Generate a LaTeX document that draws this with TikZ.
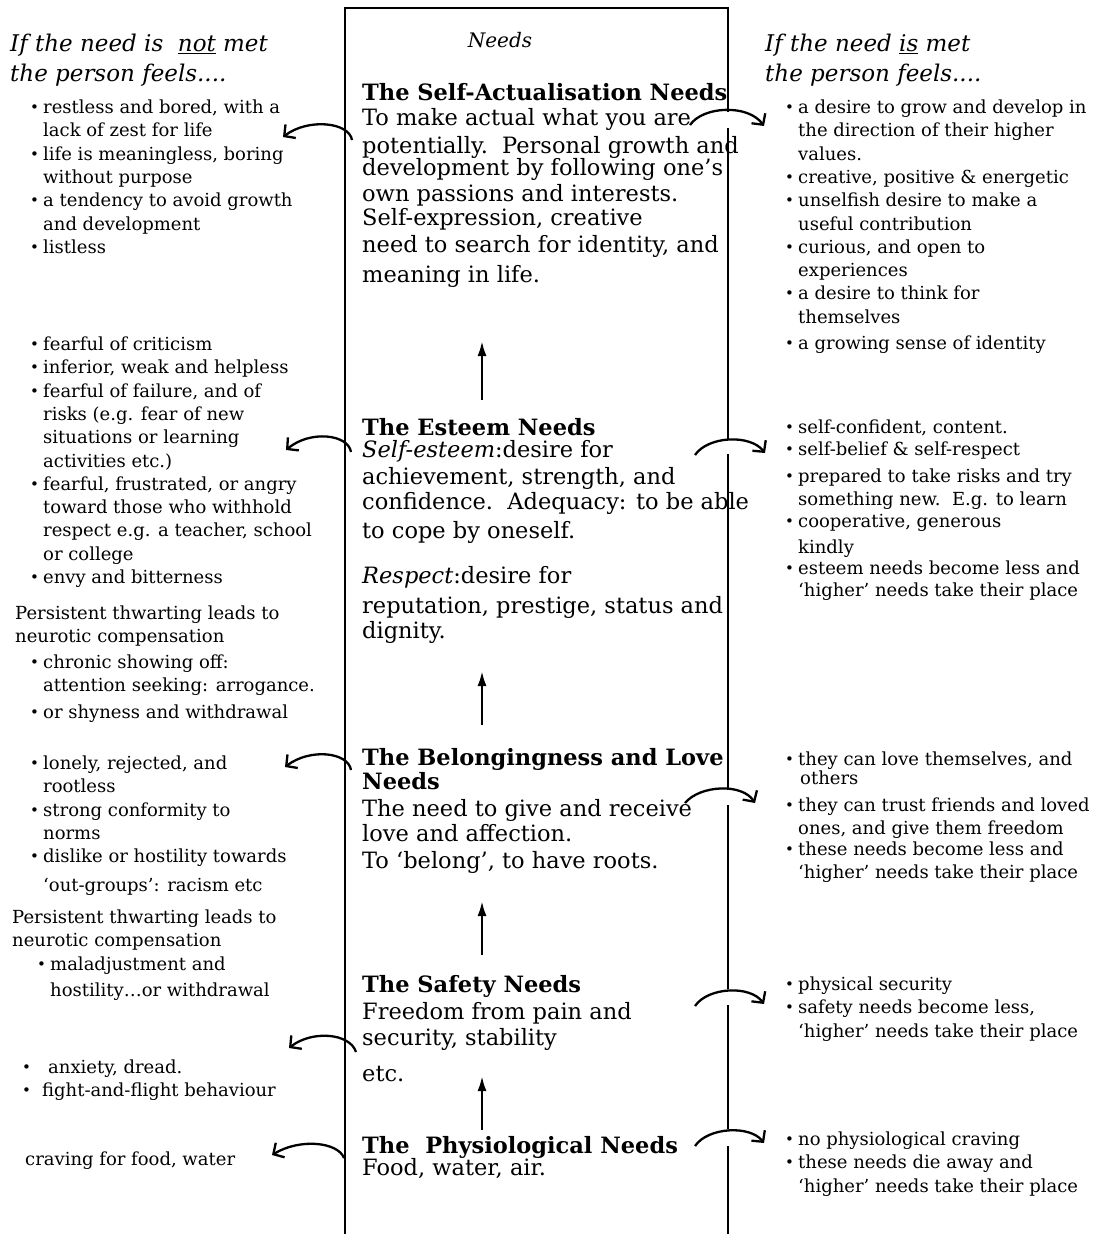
\documentclass[tikz,border=0pt]{standalone}
\usepackage{fontspec}
\setmainfont{DejaVu Serif}
\usepackage{tikz}
\usetikzlibrary{arrows.meta}
\tikzset{side text/.style={anchor=north west,inner sep=0,align=left,font=\fontsize{18}{23.3}\selectfont}}
\tikzset{need text/.style={anchor=north west,inner sep=0,align=left,font=\fontsize{22.5}{25}\selectfont}}
\tikzset{head text/.style={anchor=north west,inner sep=0,align=left,font=\fontsize{23}{30}\selectfont\itshape}}
\tikzset{frame line/.style={line width=2.6pt}}
\tikzset{hook arrow/.style={line width=2.3pt,-{Straight Barb[length=8pt,width=17pt]}}}
\tikzset{up arrow/.style={line width=2.4pt,-{Latex[length=15pt,width=9pt]}}}
\newcommand{\bul}[1][13pt]{\strut\makebox[#1][l]{\raisebox{1pt}{\fontsize{15}{15}\selectfont\textbullet}}}
\def\ind{\hspace*{13pt}}

\begin{document}
\begin{tikzpicture}[x=1pt,y=-1pt]
  \useasboundingbox (0,0) rectangle (1099,1234);

  %枠線
  \draw[frame line] (345,1234) -- (345,8) -- (728,8) -- (728,112);
  \draw[frame line] (345,141) -- (345,436);
  \draw[frame line] (345,453) -- (345,756);
  \draw[frame line] (345,771) -- (345,1036);
  \draw[frame line] (345,1053) -- (345,1234);
  \draw[frame line] (728,128) -- (728,439);
  \draw[frame line] (728,454) -- (728,789);
  \draw[frame line] (728,805) -- (728,989);
  \draw[frame line] (728,1005) -- (728,1129);
  \draw[frame line] (728,1146) -- (728,1234);

  %見出し
  \node[head text] (head-no) at (10,30) {\strut If the need is\ \ \underline{not} met\\ the person feels....};
  \node[head text] (head-yes) at (765,30) {\strut If the need \underline{is} met\\ the person feels....};
  \node[font=\fontsize{20}{22}\selectfont\itshape, inner sep=0] (needs) at (500,40) {Needs};

  %欲求
  \node[need text] (sa) at (362,82.5) {\strut{\bfseries The Self-Actualisation Needs}\\
    To make actual what you are\\[3pt]
    potentially.\ \ Personal growth and\\[-3pt]
    development by following one’s\\[1pt]
    own passions and interests.\\[-1pt]
    Self-expression, creative\\[2pt]
    need to search for identity, and\\[5pt]
    meaning in life.};
  \node[need text] (esteem) at (362,417.5) {\strut{\bfseries The Esteem Needs}\\[-3pt]
    \textit{Self-esteem}:desire for\\[2pt]
    achievement, strength, and\\
    confidence.\ \ Adequacy: to be able\\[4pt]
    to cope by oneself.\\[20pt]
    \textit{Respect}:desire for\\[5pt]
    reputation, prestige, status and\\
    dignity.};
  \node[need text] (belong) at (362,747.5) {\strut{\bfseries The Belongingness and Love}\\[-1pt]
    {\bfseries Needs}\\[2pt]
    The need to give and receive\\
    love and affection.\\[2pt]
    To ‘belong’, to have roots.};
  \node[need text] (safety) at (362,974.5) {\strut{\bfseries The Safety Needs}\\[2pt]
    Freedom from pain and\\[1pt]
    security, stability\\[11pt]
    etc.};
  \node[need text] (physio) at (362,1135.5) {\strut{\bfseries The\ \ Physiological Needs}\\[-3pt]
    Food, water, air.};

  %満たされない
  \node[side text] (sa-no) at (30,97) {\bul restless and bored, with a\\
    \ind lack of zest for life\\
    \bul life is meaningless, boring\\
    \ind without purpose\\
    \bul a tendency to avoid growth\\
    \ind and development\\
    \bul listless};
  \node[side text] (esteem-no) at (30,334) {\bul fearful of criticism\\
    \bul inferior, weak and helpless\\
    \bul fearful of failure, and of\\
    \ind risks (e.g. fear of new\\
    \ind situations or learning\\
    \ind activities etc.)\\
    \bul fearful, frustrated, or angry\\
    \ind toward those who withhold\\
    \ind respect e.g. a teacher, school\\
    \ind or college\\
    \bul envy and bitterness};
  \node[side text] (thwart-a) at (15,603) {\strut Persistent thwarting leads to\\
    neurotic compensation\\[2pt]
    \hspace*{15pt}\bul chronic showing off:\\
    \hspace*{28pt}attention seeking: arrogance.\\[4pt]
    \hspace*{15pt}\bul or shyness and withdrawal};
  \node[side text] (belong-no) at (30,753) {\bul lonely, rejected, and\\
    \ind rootless\\
    \bul strong conformity to\\
    \ind norms\\
    \bul dislike or hostility towards\\[5pt]
    \ind ‘out-groups’: racism etc};
  \node[side text] (thwart-b) at (12,907) {\strut Persistent thwarting leads to\\
    neurotic compensation\\
    \hspace*{25pt}\bul maladjustment and\\[3pt]
    \hspace*{38pt}hostility…or withdrawal};
  \node[side text] (safety-no) at (22,1057) {\bul[20pt]\hspace*{6pt}anxiety, dread.\\
    \bul[20pt]fight-and-flight behaviour};
  \node[side text] (physio-no) at (25,1149) {\strut craving for food, water};

  %満たされる
  \node[side text] (sa-yes) at (785,97) {\bul a desire to grow and develop in\\
    \ind the direction of their higher\\
    \ind values.\\
    \bul creative, positive \& energetic\\
    \bul unselfish desire to make a\\
    \ind useful contribution\\
    \bul curious, and open to\\
    \ind experiences\\
    \bul a desire to think for\\
    \ind themselves\\[3pt]
    \bul a growing sense of identity};
  \node[side text] (esteem-yes) at (785,417) {\bul self-confident, content.\\[-1pt]
    \bul self-belief \& self-respect\\[3pt]
    \bul prepared to take risks and try\\
    \ind something new.\ \ E.g. to learn\\[-1pt]
    \bul cooperative, generous\\[2pt]
    \ind kindly\\[-2pt]
    \bul esteem needs become less and\\[-1pt]
    \ind ‘higher’ needs take their place};
  \node[side text] (belong-yes) at (785,749) {\bul they can love themselves, and\\[-4pt]
    \ind\hspace*{2pt}others\\[3pt]
    \bul they can trust friends and loved\\
    \ind ones, and give them freedom\\[-2pt]
    \bul these needs become less and\\[-1pt]
    \ind ‘higher’ needs take their place};
  \node[side text] (safety-yes) at (785,974) {\bul physical security\\
    \bul safety needs become less,\\
    \ind ‘higher’ needs take their place};
  \node[side text] (physio-yes) at (785,1129) {\bul no physiological craving\\
    \bul these needs die away and\\
    \ind ‘higher’ needs take their place};

  %矢印
  \coordinate (sa-l0) at (352,140);     \coordinate (sa-l1) at (283,137);
  \coordinate (esteem-l0) at (351,452); \coordinate (esteem-l1) at (286,450);
  \coordinate (belong-l0) at (351,770); \coordinate (belong-l1) at (285,767);
  \coordinate (safety-l0) at (356,1052); \coordinate (safety-l1) at (289,1048);
  \coordinate (physio-l0) at (344,1158); \coordinate (physio-l1) at (272,1155);
  \draw[hook arrow] (sa-l0) .. controls (349,122) and (308,118) .. (sa-l1);
  \draw[hook arrow] (esteem-l0) .. controls (348,434) and (310,430) .. (esteem-l1);
  \draw[hook arrow] (belong-l0) .. controls (348,752) and (310,748) .. (belong-l1);
  \draw[hook arrow] (safety-l0) .. controls (350,1033) and (312,1030) .. (safety-l1);
  \draw[hook arrow] (physio-l0) .. controls (338,1142) and (300,1138) .. (physio-l1);

  \coordinate (sa-r0) at (690,125);     \coordinate (sa-r1) at (764,126);
  \coordinate (esteem-r0) at (695,455); \coordinate (esteem-r1) at (765,453);
  \coordinate (belong-r0) at (685,803); \coordinate (belong-r1) at (755,803);
  \coordinate (safety-r0) at (695,1006); \coordinate (safety-r1) at (764,1004);
  \coordinate (physio-r0) at (695,1146); \coordinate (physio-r1) at (764,1143);
  \draw[hook arrow] (sa-r0) .. controls (703,106) and (748,104) .. (sa-r1);
  \draw[hook arrow] (esteem-r0) .. controls (708,436) and (750,434) .. (esteem-r1);
  \draw[hook arrow] (belong-r0) .. controls (700,785) and (742,783) .. (belong-r1);
  \draw[hook arrow] (safety-r0) .. controls (708,987) and (750,985) .. (safety-r1);
  \draw[hook arrow] (physio-r0) .. controls (708,1127) and (750,1125) .. (physio-r1);

  \coordinate (up1a) at (482,400); \coordinate (up1b) at (482,341);
  \coordinate (up2a) at (482,725); \coordinate (up2b) at (482,671);
  \coordinate (up3a) at (482,955); \coordinate (up3b) at (482,901);
  \coordinate (up4a) at (482,1130); \coordinate (up4b) at (482,1076);
  \draw[up arrow] (up1a) -- (up1b);
  \draw[up arrow] (up2a) -- (up2b);
  \draw[up arrow] (up3a) -- (up3b);
  \draw[up arrow] (up4a) -- (up4b);

\end{tikzpicture}
\end{document}
